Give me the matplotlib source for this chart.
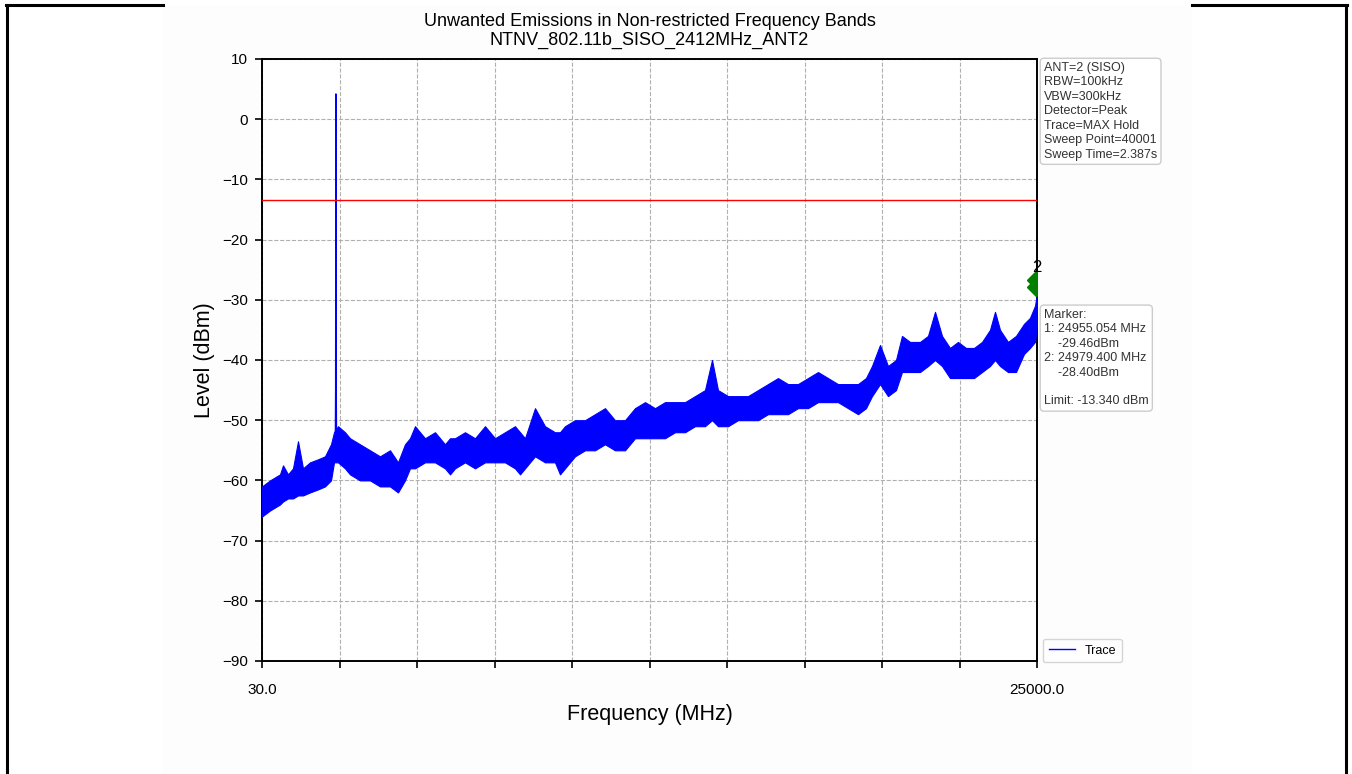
import matplotlib
matplotlib.use("Agg")
import matplotlib.pyplot as plt
from matplotlib.lines import Line2D
import matplotlib.transforms as mtransforms
import numpy as np

plt.rcParams['font.family'] = ['Liberation Sans', 'DejaVu Sans']

# ---- data (trace envelope, MHz / dBm) ----
env_freq = [30, 288, 449, 610, 707, 868, 1029, 1190, 1351, 1577,
            1834, 2060, 2253, 2350, 2479, 2704, 2865, 3187, 3510, 3832,
            4154, 4412, 4637, 4798, 4959, 5282, 5604, 5926, 6087, 6248,
            6570, 6893, 7215, 7537, 7859, 8181, 8343, 8504, 8826, 9148,
            9470, 9631, 9792, 10115, 10437, 10759, 11081, 11403, 11726, 12048,
            12370, 12692, 13014, 13336, 13659, 13981, 14303, 14529, 14722, 15044,
            15366, 15688, 16011, 16333, 16655, 16977, 17299, 17622, 17944, 18266,
            18588, 18910, 19233, 19490, 19684, 19942, 20199, 20457, 20650, 20908,
            21230, 21488, 21714, 21939, 22197, 22454, 22712, 22970, 23228, 23485,
            23647, 23808, 24065, 24323, 24581, 24774, 24935, 25000]
env_upper = [-61, -60, -59.5, -59, -57.5, -59, -58, -53.5, -58, -57,
             -56.5, -56, -54, -52, -51, -52, -53, -54, -55, -56,
             -55, -57, -54, -53, -51, -53, -52, -54, -53, -53,
             -52, -53, -51, -53, -52, -51, -52, -53, -48, -51,
             -52, -52, -51, -50, -50, -49, -48, -50, -50, -48,
             -47, -48, -47, -47, -47, -46, -45, -40, -45, -46,
             -46, -46, -45, -44, -43, -44, -44, -43, -42, -43,
             -44, -44, -44, -43, -41, -37.5, -41, -40, -36, -37,
             -37, -36, -32, -36, -38, -37, -38, -38, -37, -35,
             -32, -35, -37, -36, -34, -33, -31, -29]
env_lower = [-66, -65, -64.5, -64, -63.5, -63, -63, -62.5, -62.5, -62,
             -61.5, -61, -60, -57, -57, -58, -59, -60, -60, -61,
             -61, -62, -60, -58, -58, -57, -57, -58, -59, -58,
             -57, -58, -57, -57, -57, -58, -59, -58, -56, -57,
             -57, -59, -58, -56, -55, -55, -54, -55, -55, -53,
             -53, -53, -53, -52, -52, -51, -51, -50, -51, -51,
             -50, -50, -50, -49, -49, -49, -48, -48, -47, -47,
             -47, -48, -49, -48, -46, -44, -46, -45, -42, -42,
             -42, -41, -40, -41, -43, -43, -43, -43, -42, -41,
             -40, -41, -42, -42, -39, -38, -37, -34]
spike_freq = [2395, 2402, 2408, 2411, 2412, 2413, 2416, 2422, 2430]
spike_level = [-52, -45, -12, -7, 4.2, -7, -12, -45, -52]

limit_level = -13.340
marker_freq = [24955.054, 24979.400]
marker_level = [-29.46, -28.40]
x_min, x_max = 30.0, 25000.0
y_ticks = [10, 0, -10, -20, -30, -40, -50, -60, -70, -80, -90]

info_text = ("ANT=2 (SISO)\nRBW=100kHz\nVBW=300kHz\nDetector=Peak\n"
             "Trace=MAX Hold\nSweep Point=40001\nSweep Time=2.387s")
marker_text = ("Marker:\n1: 24955.054 MHz\n    -29.46dBm\n2: 24979.400 MHz\n"
               "    -28.40dBm\n\nLimit: -13.340 dBm")

W, H = 1352, 774
fig = plt.figure(figsize=(W / 100, H / 100), dpi=100)
fig.patch.set_facecolor('white')

# background of the embedded picture and outer frame
fig.add_artist(plt.Rectangle((163 / W, 0), (1192 - 163) / W, 1 - 5 / H,
                             transform=fig.transFigure, facecolor='#fdfdfd',
                             edgecolor='none', zorder=-5))
fig.add_artist(Line2D([6.5 / W, 6.5 / W], [0, 1 - 5 / H], transform=fig.transFigure,
                      color='black', lw=2.2))
fig.add_artist(Line2D([1345.5 / W, 1345.5 / W], [0, 1 - 5 / H], transform=fig.transFigure,
                      color='black', lw=2.2))
fig.add_artist(Line2D([5.5 / W, 163 / W], [1 - 5 / H, 1 - 5 / H], transform=fig.transFigure,
                      color='black', lw=2.2))
fig.add_artist(Line2D([1192 / W, 1346.5 / W], [1 - 5 / H, 1 - 5 / H], transform=fig.transFigure,
                      color='black', lw=2.2))

ax = fig.add_axes([262 / W, 1 - 661 / H, (1037 - 262) / W, (661 - 59) / H])
ax.set_facecolor('white')

ax.fill_between(env_freq, env_lower, env_upper, color='#0000ff', lw=0.8,
                edgecolor='#0000ff', zorder=3)
ax.plot(spike_freq, spike_level, color='#0000ff', lw=1.0, zorder=3, label='Trace')
ax.axhline(limit_level, color='#ff0000', lw=1.0, zorder=4)
mk_trans = mtransforms.offset_copy(ax.transData, fig=fig, x=0, y=7, units='points')
ax.plot(marker_freq, marker_level, linestyle='none', marker='D', markersize=9,
        color='#008000', zorder=5, clip_on=True, transform=mk_trans)
ax.text(marker_freq[1], marker_level[1] + 2.6, '2', ha='center', va='bottom',
        fontsize=12, color='black', zorder=6)

ax.set_xlim(x_min, x_max)
ax.set_ylim(-90, 10)
xt = np.linspace(x_min, x_max, 11)
ax.set_xticks(xt)
ax.set_xticklabels(['30.0'] + [''] * 9 + ['25000.0'], fontsize=11)
ax.set_yticks(y_ticks)
ax.set_yticklabels([str(v).replace('-', '\u2212') for v in y_ticks], fontsize=11)
ax.tick_params(axis='x', direction='out', length=5, width=1.2, pad=11)
ax.tick_params(axis='y', direction='out', length=5, width=1.2, pad=5)
ax.grid(True, linestyle='--', color='#b0b0b0', lw=0.8)
ax.set_axisbelow(True)
for s in ax.spines.values():
    s.set_linewidth(1.4)
    s.set_color('black')

ax.set_xlabel('Frequency (MHz)', fontsize=15.5, labelpad=5)
ax.set_ylabel('Level (dBm)', fontsize=15.5, labelpad=5)
ax.set_title('Unwanted Emissions in Non-restricted Frequency Bands\nNTNV_802.11b_SISO_2412MHz_ANT2',
             fontsize=13, pad=10, linespacing=1.15)

box = dict(boxstyle='round,pad=0.3,rounding_size=0.3', facecolor='white',
           edgecolor='#cccccc', lw=1)
ax.text(1.009, 0.995, info_text, transform=ax.transAxes, ha='left', va='top',
        fontsize=9, color='#333333', bbox=box, linespacing=1.27)
ax.text(1.009, 0.585, marker_text, transform=ax.transAxes, ha='left', va='top',
        fontsize=9, color='#333333', bbox=box, linespacing=1.27)

leg = ax.legend(loc='lower left', bbox_to_anchor=(1.0077, -0.002), fontsize=9,
                frameon=True, handlelength=2.1, borderpad=0.45, borderaxespad=0,
                handletextpad=0.8)
leg.get_frame().set_edgecolor('#cccccc')

fig.savefig('out.png', dpi=100)
